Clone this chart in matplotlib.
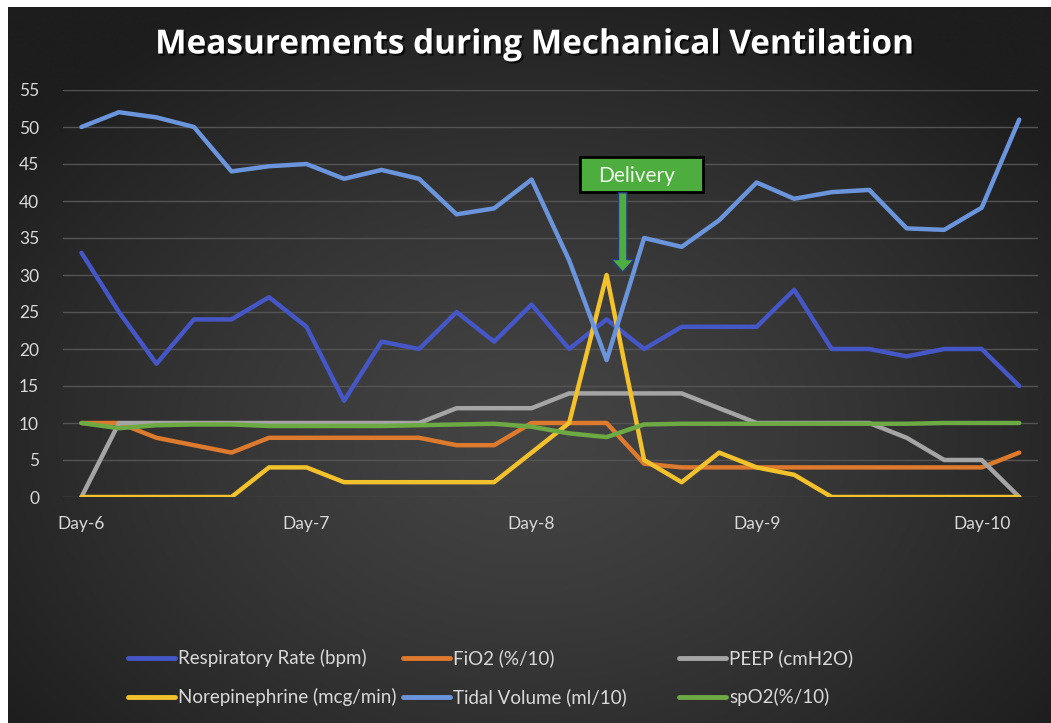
import numpy as np
import matplotlib
matplotlib.use("Agg")
import matplotlib.pyplot as plt
import matplotlib.patheffects as pe
from matplotlib.patches import Rectangle
from matplotlib.lines import Line2D

plt.rcParams['font.family'] = ['Lato', 'DejaVu Sans']

# ---- data (26 readings, Day-6 .. past Day-10) ----
day_labels = ["Day-6", "Day-7", "Day-8", "Day-9", "Day-10"]
day_index = [0, 6, 12, 18, 24]

resp_rate = [33, 25, 18, 24, 24, 27, 23, 13, 21, 20, 25, 21, 26, 20, 24, 20,
             23, 23, 23, 28, 20, 20, 19, 20, 20, 15]
fio2 = [10, 10, 8, 7, 6, 8, 8, 8, 8, 8, 7, 7, 10, 10, 10, 4.5,
        4, 4, 4, 4, 4, 4, 4, 4, 4, 6]
peep = [0, 10, 10, 10, 10, 10, 10, 10, 10, 10, 12, 12, 12, 14, 14, 14,
        14, 12, 10, 10, 10, 10, 8, 5, 5, 0]
norepi = [0, 0, 0, 0, 0, 4, 4, 2, 2, 2, 2, 2, 6, 10, 30, 5,
          2, 6, 4, 3, 0, 0, 0, 0, 0, 0]
tidal = [50, 52, 51.3, 50, 44, 44.7, 45, 43, 44.2, 43, 38.2, 39, 42.9, 32, 18.5, 35,
         33.8, 37.4, 42.5, 40.3, 41.2, 41.5, 36.3, 36.1, 39.1, 51]
spo2 = [10, 9.3, 9.7, 9.8, 9.8, 9.6, 9.6, 9.6, 9.6, 9.7, 9.8, 9.9, 9.5, 8.6, 8.1, 9.8,
        9.9, 9.9, 9.9, 9.9, 9.9, 9.9, 9.9, 10, 10, 10]

series = [
    ("Respiratory Rate (bpm)", resp_rate, "#4556C6"),
    ("FiO2 (%/10)", fio2, "#DD7A2E"),
    ("PEEP (cmH2O)", peep, "#A5A5A5"),
    ("Norepinephrine (mcg/min)", norepi, "#F2C12C"),
    ("Tidal Volume (ml/10)", tidal, "#6A95DC"),
    ("spO2(%/10)", spo2, "#6EAA44"),
]

W, H = 1051, 723
fig = plt.figure(figsize=(W / 100, H / 100), dpi=100, facecolor="white")

# dark radial background (Excel style), with thin white margin top/left
bg = fig.add_axes([8 / W, 0, 1 - 8 / W, 1 - 7 / H], zorder=-10)
yy, xx = np.mgrid[0:1:300j, 0:1:400j]
r = np.sqrt(((xx - 0.5) / 0.75) ** 2 + ((yy - 0.6) / 0.8) ** 2)
r = np.clip(r / 0.85, 0, 1)
shade = 0x44 - (0x44 - 0x1d) * r ** 1.3
img = np.dstack([shade, shade, shade]) / 255.0
bg.imshow(img, extent=[0, 1, 0, 1], aspect="auto", origin="upper")
bg.axis("off")

ax = fig.add_axes([62.7 / W, (H - 497) / H, 975.3 / W, 407 / H])
ax.set_facecolor("none")
x = np.arange(len(resp_rate))
for name, vals, col in series:
    ax.plot(x, vals, color=col, lw=3.2, solid_capstyle="round",
            solid_joinstyle="round", label=name)

ax.set_xlim(-0.5, len(x) - 0.5)
ax.set_ylim(0, 55)
ax.set_yticks(np.arange(0, 56, 5))
ax.set_xticks(day_index)
ax.set_xticklabels(day_labels)
ax.grid(axis="y", color="#545454", lw=1)
ax.set_axisbelow(True)
ax.tick_params(length=0, colors="#D9D9D9", labelsize=12.5)
ax.tick_params(axis="y", pad=17)
ax.tick_params(axis="x", pad=14)
for s in ax.spines.values():
    s.set_visible(False)

# "Delivery" callout
green = "#4DAE3F"
ax.add_patch(Rectangle((13.28, 41.2), 3.28, 4.73, fc=green, ec="black",
                       lw=2, zorder=5))
ax.text(14.81, 43.35, "Delivery", color="#EEF6EA", fontsize=15,
        ha="center", va="center", zorder=6)
ax.annotate("", xy=(14.43, 30.4), xytext=(14.43, 41.1),
            arrowprops=dict(arrowstyle="simple,head_width=1.6,head_length=0.9,tail_width=0.6",
                            mutation_scale=10, fc=green, ec="#2B3A85", lw=1,
                            shrinkA=0, shrinkB=0), zorder=6)

fig.text(535 / W, 1 - 45 / H, "Measurements during Mechanical Ventilation",
         color="white", fontsize=24, fontweight="bold", ha="center", va="center",
         family=["Open Sans", "DejaVu Sans"],
         path_effects=[pe.withSimplePatchShadow(offset=(1.5, -1.5),
                                                shadow_rgbFace="black", alpha=0.7)])

# legend, laid out like the Excel one (3 columns, 2 rows)
legend_pos = [(128, 658), (403, 658), (679, 658),
              (128, 697), (403, 697), (679, 697)]
for (name, vals, col), (lx, ly) in zip(series, legend_pos):
    fy = 1 - ly / H
    fig.add_artist(Line2D([lx / W, (lx + 47) / W], [fy, fy], color=col, lw=3.5,
                          solid_capstyle="round"))
    fig.text((lx + 50) / W, fy, name, color="#D9D9D9", fontsize=13.5,
             ha="left", va="center")

fig.savefig("out.png", dpi=100, facecolor=fig.get_facecolor())
